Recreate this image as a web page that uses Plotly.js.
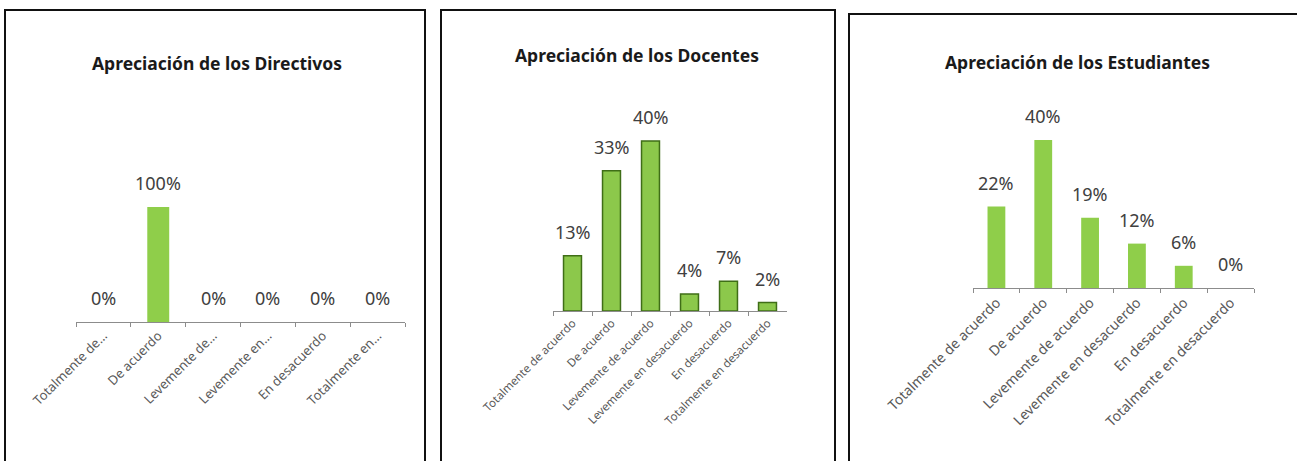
<!DOCTYPE html>
<html>
<head>
<meta charset="utf-8">
<script src="https://cdn.plot.ly/plotly-3.0.1.min.js"></script>
<style>html,body{margin:0;padding:0;background:#fff;}#chart{width:1297px;height:461px;}</style>
</head>
<body>
<div id="chart"></div>
<script>
// ---- data ----
var titles = ["Apreciación de los Directivos", "Apreciación de los Docentes", "Apreciación de los Estudiantes"];
var catsDirectivos = ["Totalmente de…", "De acuerdo", "Levemente de…", "Levemente en…", "En desacuerdo", "Totalmente en…"];
var catsFull = ["Totalmente de acuerdo", "De acuerdo", "Levemente de acuerdo", "Levemente en desacuerdo", "En desacuerdo", "Totalmente en desacuerdo"];
var valsDirectivos = [0, 1.00, 0, 0, 0, 0];
var valsDocentes = [0.13, 0.33, 0.40, 0.04, 0.07, 0.02];
var valsEstudiantes = [0.22, 0.40, 0.19, 0.12, 0.06, 0.00];

// ---- layout helpers (pixel geometry -> paper) ----
var W = 1297, H = 461;
function px(x){ return x / W; }
function py(y){ return 1 - y / H; }

var panels = [
  {cats: catsDirectivos, vals: valsDirectivos, x0: 76, x1: 405, yb: 322, yt: 150, perUnit: 115, width: 0.4, tickSize: 13,
   fill: '#8fce4a', line: 'rgba(0,0,0,0)', lw: 0, box: [5, 425, 10], titleX: 217, titleY: 63},
  {cats: catsFull, vals: valsDocentes, x0: 553, x1: 787, yb: 311, yt: 100, perUnit: 425, width: 0.46, tickSize: 11.5,
   fill: '#8cc84b', line: '#3f6e17', lw: 1.5, box: [441, 835, 10], titleX: 637, titleY: 55},
  {cats: catsFull, vals: valsEstudiantes, x0: 973, x1: 1254, yb: 288, yt: 100, perUnit: 370, width: 0.38, tickSize: 14,
   fill: '#8fce4a', line: 'rgba(0,0,0,0)', lw: 0, box: [849, 1300, 14], titleX: 1077, titleY: 62}
];

var traces = [];
var layout = {
  width: W, height: H,
  margin: {l: 0, r: 0, t: 0, b: 0},
  paper_bgcolor: '#ffffff', plot_bgcolor: 'rgba(0,0,0,0)',
  showlegend: false,
  font: {family: 'Noto Sans, Open Sans, sans-serif', color: '#404040'},
  shapes: [], annotations: []
};

panels.forEach(function(p, i){
  var n = i === 0 ? '' : String(i + 1);
  var xa = 'x' + n, ya = 'y' + n;
  traces.push({
    type: 'bar', x: p.cats, y: p.vals, xaxis: xa, yaxis: ya,
    width: p.width,
    marker: {color: p.fill, line: {color: p.line, width: p.lw}},
    hoverinfo: 'x+y'
  });
  var range = (p.yb - p.yt) / p.perUnit;
  layout['xaxis' + n] = {
    domain: [px(p.x0), px(p.x1)], anchor: ya,
    type: 'category', range: [-0.5, 5.5],
    showline: true, linecolor: '#8c8c8c', linewidth: 1,
    ticks: 'outside', tickson: 'boundaries', ticklen: 4, tickcolor: '#8c8c8c',
    tickangle: -45, tickfont: {size: p.tickSize, color: '#595959', family: 'Noto Sans, sans-serif'},
    showgrid: false, zeroline: false, fixedrange: true
  };
  layout['yaxis' + n] = {
    domain: [py(p.yb), py(p.yt)], anchor: xa,
    range: [0, range], visible: false, showgrid: false, zeroline: false, fixedrange: true
  };
  // data labels
  p.cats.forEach(function(c, k){
    layout.annotations.push({
      xref: xa, yref: ya, x: c, y: p.vals[k],
      text: Math.round(p.vals[k] * 100) + '%',
      showarrow: false, yanchor: 'bottom', yshift: 10,
      font: {size: 18, color: '#404040', family: 'Noto Sans, sans-serif'}
    });
  });
  // title
  layout.annotations.push({
    xref: 'paper', yref: 'paper', x: px(p.titleX), y: py(p.titleY),
    xanchor: 'center', yanchor: 'middle', showarrow: false,
    text: '<b>' + titles[i] + '</b>',
    font: {size: 17.5, color: '#1a1a1a', family: 'Noto Sans, sans-serif'}
  });
  // border box
  layout.shapes.push({
    type: 'rect', xref: 'paper', yref: 'paper',
    x0: px(p.box[0]), x1: px(p.box[1]), y0: py(475), y1: py(p.box[2]),
    line: {color: '#111111', width: 2}, fillcolor: 'rgba(0,0,0,0)'
  });
});

Plotly.newPlot('chart', traces, layout, {displayModeBar: false, staticPlot: true});
</script>
</body>
</html>
